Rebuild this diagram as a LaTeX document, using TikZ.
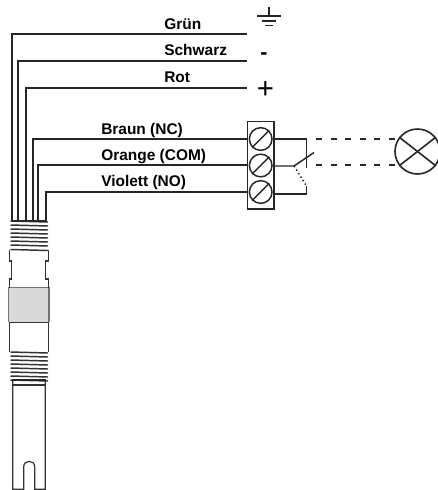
\documentclass[tikz,border=0pt]{standalone}
\usepackage{fontspec}
\setmainfont{Liberation Sans}
\usetikzlibrary{calc}
\tikzset{
	wire/.style={line width=1.5pt, color=black!85},
	body/.style={line width=0.9pt, color=black!80},
	thread/.style={line width=1.1pt, color=black!80},
	lbl/.style={anchor=base west, inner sep=0pt, font=\fontsize{11.6}{13}\selectfont\bfseries},
	sign/.style={inner sep=0pt, font=\fontsize{16}{16}\selectfont\bfseries},
	screw/.style={draw, circle, line width=1.1pt, minimum size=17pt, inner sep=0pt, color=black!85},
	relay/.style={dash pattern=on 4.5pt off 6.4pt, line width=1.2pt, color=black!85}
}
\begin{document}
\begin{tikzpicture}[x=0.75pt, y=-0.75pt]
		\useasboundingbox (0,0) rectangle (437,490);
		
		% probe
		\fill[black!15] (8.7,287.5) rectangle (49,322.3);
		\draw[body, black!55] (8.7,322.3) -- (8.7,287.5) -- (49,287.5) -- (49,322.3);
		\draw[body] (8.7,322.3) -- (49,322.3);
		\draw[body] (9.5,250) -- (9.5,261) -- (11.7,261) -- (11.7,279) -- (9.7,279) -- (9.7,287.5);
		\draw[body] (48.5,250) -- (48.5,261) -- (45.7,261) -- (45.7,279) -- (48.5,279) -- (48.5,287.5);
		\draw[body] (9.5,322.3) -- (9.5,352);
		\draw[body] (48.7,322.3) -- (48.7,352);
		\draw[body] (12.7,380) -- (12.7,489.3) -- (23.7,489.3) -- (23.7,466.8) .. controls (23.7,459.5) and (34.7,459.5) .. (34.7,466.8) -- (34.7,489.3) -- (45.3,489.3) -- (45.3,380);
		\draw[body] (12.7,385) -- (45.3,385);
		\foreach \y in {221,225,229,233,237,241,245,249.5} {
			\draw[thread] (10.5,\y) -- (48,\y+1);
		}
		\foreach \y in {352,356,360,364,368,372,376,380} {
			\draw[thread] (10.5,\y) -- (48,\y+1);
		}
		\draw[wire] (12,221) -- (46,221);
		\draw[wire] (12,380) -- (46,380);
		
		% terminal block
		\node[draw, line width=1.2pt, color=black!85, minimum width=20.2pt, minimum height=65.5pt, inner sep=0pt] (block) at (260.8,165.3) {};
		\node[screw] (t1) at (260.7,139) {};
		\node[screw] (t2) at (260.7,165.5) {};
		\node[screw] (t3) at (260.7,192) {};
		\foreach \t in {t1,t2,t3} {
			\draw[wire, line width=1.1pt] (\t.225) -- (\t.45);
		}
		
		% wires
		\coordinate (s1) at (12,221);
		\coordinate (s2) at (17.5,221);
		\coordinate (s3) at (26,221);
		\coordinate (s4) at (32.5,221);
		\coordinate (s5) at (38,221);
		\coordinate (s6) at (46,221);
		\coordinate (e1) at (247,34);
		\coordinate (e2) at (247,60.5);
		\coordinate (e3) at (247,87.5);
		\coordinate (e4) at (247.3,139);
		\coordinate (e5) at (247.3,165);
		\coordinate (e6) at (247.3,192);
		\foreach \i in {1,...,6} {
			\draw[wire] (s\i) |- (e\i);
		}
		
		% labels
		\node[lbl] (gruen) at (164,29) {Grün};
		\node[lbl] (schwarz) at (164,55) {Schwarz};
		\node[lbl] (rot) at (164,82) {Rot};
		\node[lbl] (braun) at (101,134) {Braun (NC)};
		\node[lbl] (orange) at (101,160) {Orange (COM)};
		\node[lbl] (violett) at (101,186.5) {Violett (NO)};
		
		% ground, minus, plus
		\coordinate (g0) at (269,7);
		\coordinate (g1) at (269,16);
		\draw[wire, line width=1.1pt] (g0) -- (g1);
		\draw[wire, line width=1.1pt] (257,16) -- (281,16);
		\draw[wire, line width=1.3pt] (262,21) -- (276,21);
		\draw[wire, line width=1.1pt] (265,25.5) -- (273,25.5);
		\node[sign] (minus) at (264,56) {-};
		\node[inner sep=0pt, font=\fontsize{22}{22}\selectfont] (plus) at (265.5,90) {+};
		
		% contact
		\coordinate (c1) at (306.5,139);
		\coordinate (c2) at (306.5,168);
		\coordinate (c3) at (294,166);
		\coordinate (c4) at (314,152.5);
		\coordinate (c5) at (306.5,186);
		\coordinate (c6) at (306.5,194);
		\draw[wire, line width=1.1pt] (block.east |- c1) -- (c1) -- (c2);
		\draw[wire, line width=1.1pt] (block.east |- c3) -- (c3) -- (c4);
		\draw[wire, line width=1.1pt, dotted] (c3) -- (c5);
		\draw[wire, line width=1.1pt] (c5) -- (c6) -- (block.east |- c6);
		
		% lamp
		\node[draw, circle, line width=1.2pt, color=black!85, minimum size=33.75pt, inner sep=0pt] (lamp) at (417.5,151.5) {};
		\draw[wire, line width=1.2pt] (lamp.142) -- (lamp.322);
		\draw[wire, line width=1.2pt] (lamp.218) -- (lamp.38);
		\coordinate (d1) at (316,138.9);
		\coordinate (d2) at (316,165);
		\coordinate (d3) at (396,138.9);
		\coordinate (d4) at (396,165);
		\draw[relay] (d1) -- (d3);
		\draw[relay] (d2) -- (d4);
\end{tikzpicture}
\end{document}
